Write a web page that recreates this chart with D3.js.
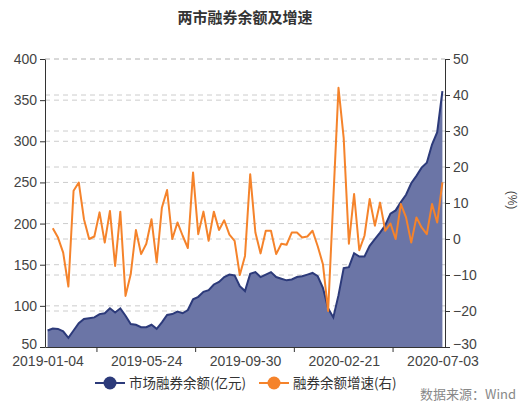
<!DOCTYPE html>
<html>
<head>
<meta charset="utf-8">
<script src="https://cdn.jsdelivr.net/npm/d3@7"></script>
<style>
  body { margin: 0; background: #fff; }
  text { font-family: "Liberation Sans", "Noto Sans CJK SC", sans-serif; }
</style>
</head>
<body>
<div id="chart"></div>
<script>
// weekly dates on the category axis
var dates = [
  "2019-01-04","2019-01-11","2019-01-18","2019-01-25","2019-02-01","2019-02-15","2019-02-22","2019-03-01",
  "2019-03-08","2019-03-15","2019-03-22","2019-03-29","2019-04-04","2019-04-12","2019-04-19","2019-04-26",
  "2019-04-30","2019-05-10","2019-05-17","2019-05-24","2019-05-31","2019-06-06","2019-06-14","2019-06-21",
  "2019-06-28","2019-07-05","2019-07-12","2019-07-19","2019-07-26","2019-08-02","2019-08-09","2019-08-16",
  "2019-08-23","2019-08-30","2019-09-06","2019-09-12","2019-09-20","2019-09-27","2019-09-30","2019-10-11",
  "2019-10-18","2019-10-25","2019-11-01","2019-11-08","2019-11-15","2019-11-22","2019-11-29","2019-12-06",
  "2019-12-13","2019-12-20","2019-12-27","2020-01-03","2020-01-10","2020-01-17","2020-01-23","2020-02-07",
  "2020-02-14","2020-02-21","2020-02-28","2020-03-06","2020-03-13","2020-03-20","2020-03-27","2020-04-03",
  "2020-04-10","2020-04-17","2020-04-24","2020-04-30","2020-05-08","2020-05-15","2020-05-22","2020-05-29",
  "2020-06-05","2020-06-12","2020-06-19","2020-06-24","2020-07-03"
];

// 市场融券余额(亿元)
var balance = [
  70, 72.5, 72, 69, 61, 70, 79, 84, 85, 86, 90, 91, 97, 92, 97, 88, 78, 77, 74, 74,
  77, 72, 80, 89, 90, 93, 91, 95, 108, 111, 117, 119, 126, 129, 135, 138, 137, 124, 118, 139,
  141, 135, 138, 141, 135, 133, 131, 132, 135, 136, 138, 140, 136, 122, 97, 86, 113, 146, 147, 164,
  160, 160, 173, 181, 189, 198, 212, 216, 226, 235, 249, 258, 268, 274, 296, 311, 361
];

// 融券余额增速(右), %
var growth = [
  null, 3.0, 0.4, -3.8, -13.2, 13.4, 15.7, 5.5, 0, 0.7, 7.4, -1.0, 7.8, -7.5, 7.6, -15.8, -9.8, 2.5, -4.2, -1.3,
  5.5, -6.5, 8.7, 13.6, 0, 4.6, 0.9, -2.5, 18.5, 1.35, 7.6, -0.5, 7.6, 2.5, 5.2, 1.2, -0.5, -10, -4.7, 18.0,
  1.8, -4.0, 2.3, 2.3, -4.2, -1.3, -1.6, 1.8, 1.8, 0.4, 0.7, 2.3, -2, -7, -20, 11, 42, 28, -1.3, 12.5,
  -3.1, 0.9, 11.1, 3.7, 10.1, 2.3, 4.3, 0, 9.7, 6, -1, 6, 3.2, 1.35, 9.7, 4.6, 15.7
];

var leftTicks = [50, 100, 150, 200, 250, 300, 350, 400];
var rightTicks = [-30, -20, -10, 0, 10, 20, 30, 40, 50];
var labelEvery = 19;

var svg = d3.select("#chart").append("svg")
  .attr("width", 519)
  .attr("height", 403);

var plotL = 45, plotR = 445, plotT = 59, plotB = 347;

var x = d3.scalePoint().domain(dates).range([plotL, plotR]).padding(0.5);
var yL = d3.scaleLinear().domain([50, 400]).range([plotB, plotT]);
var yR = d3.scaleLinear().domain([-30, 50]).range([plotB, plotT]);

// title
svg.append("text")
  .attr("x", 245).attr("y", 23)
  .attr("text-anchor", "middle")
  .style("font-size", "15px").style("font-weight", "bold").style("fill", "#333")
  .style("font-family", "'Noto Sans CJK SC', sans-serif")
  .text("两市融券余额及增速");

// dashed grid for both axes
svg.append("g").selectAll("line").data(leftTicks.slice(1)).join("line")
  .attr("x1", plotL).attr("x2", plotR)
  .attr("y1", d => yL(d)).attr("y2", d => yL(d))
  .attr("stroke", "#ccc").attr("stroke-dasharray", "5,4");
svg.append("g").selectAll("line").data(rightTicks.slice(1)).join("line")
  .attr("x1", plotL).attr("x2", plotR)
  .attr("y1", d => yR(d)).attr("y2", d => yR(d))
  .attr("stroke", "#ccc").attr("stroke-dasharray", "5,4");

// balance area
var area = d3.area()
  .x((d, i) => x(dates[i]))
  .y0(plotB)
  .y1(d => yL(d));
svg.append("path").datum(balance)
  .attr("d", area)
  .attr("fill", "#6b75a6");
svg.append("path").datum(balance)
  .attr("d", d3.line().x((d, i) => x(dates[i])).y(d => yL(d)))
  .attr("fill", "none").attr("stroke", "#2c3a7a").attr("stroke-width", 2);

// growth line
svg.append("path").datum(growth)
  .attr("d", d3.line().defined(d => d !== null).x((d, i) => x(dates[i])).y(d => yR(d)))
  .attr("fill", "none").attr("stroke", "#f5832b").attr("stroke-width", 2)
  .attr("stroke-linejoin", "round");

// axes
var axL = svg.append("g").attr("transform", "translate(" + plotL + ",0)")
  .call(d3.axisLeft(yL).tickValues(leftTicks).tickSize(5).tickSizeOuter(0));
var axR = svg.append("g").attr("transform", "translate(" + plotR + ",0)")
  .call(d3.axisRight(yR).tickValues(rightTicks).tickSize(5).tickSizeOuter(0));

var shown = dates.filter((d, i) => i % labelEvery === 0);
var axB = svg.append("g").attr("transform", "translate(0," + plotB + ")")
  .call(d3.axisBottom(x).tickValues(shown).tickSize(0).tickSizeOuter(0).tickPadding(9));

// x ticks sit halfway between labels
var tickXs = d3.pairs(shown).map(p => (x(p[0]) + x(p[1])) / 2);
axB.selectAll(".mid").data(tickXs).join("line")
  .attr("class", "mid")
  .attr("x1", d => d).attr("x2", d => d)
  .attr("y1", 0).attr("y2", 5)
  .attr("stroke", "#333");

[axL, axR, axB].forEach(function(g) {
  g.select(".domain").attr("stroke", "#333");
  g.selectAll(".tick line").attr("stroke", "#333");
  g.selectAll("text").style("font-size", "14px").style("fill", "#444")
    .style("font-family", "'Liberation Sans', sans-serif");
});
// keep the lowest value labels clear of the date labels
axL.selectAll(".tick text").filter(d => d === 50).attr("dy", "0.1em");
axR.selectAll(".tick text").filter(d => d === -30).attr("dy", "0.1em");

// right axis unit
svg.append("text")
  .attr("transform", "translate(508,200) rotate(90)")
  .attr("text-anchor", "middle")
  .style("font-size", "12px").style("fill", "#444")
  .text("(%)");

// legend
var legend = [
  { name: "市场融券余额(亿元)", color: "#2c3a7a", x: 95 },
  { name: "融券余额增速(右)", color: "#f5832b", x: 259 }
];
var lg = svg.append("g").selectAll("g").data(legend).join("g")
  .attr("transform", d => "translate(" + d.x + ",383)");
lg.append("line").attr("x1", 0).attr("x2", 30).attr("stroke", d => d.color).attr("stroke-width", 2);
lg.append("circle").attr("cx", 15).attr("r", 6.5).attr("fill", d => d.color);
lg.append("text").attr("x", 34).attr("y", 5)
  .style("font-size", "13.5px").style("fill", "#333")
  .style("font-family", "'Noto Sans CJK SC', sans-serif")
  .text(d => d.name);

// source
svg.append("text")
  .attr("x", 516).attr("y", 399)
  .attr("text-anchor", "end")
  .style("font-size", "13px").style("fill", "#888")
  .style("font-family", "'Noto Sans CJK SC', sans-serif")
  .text("数据来源：Wind");
</script>
</body>
</html>
